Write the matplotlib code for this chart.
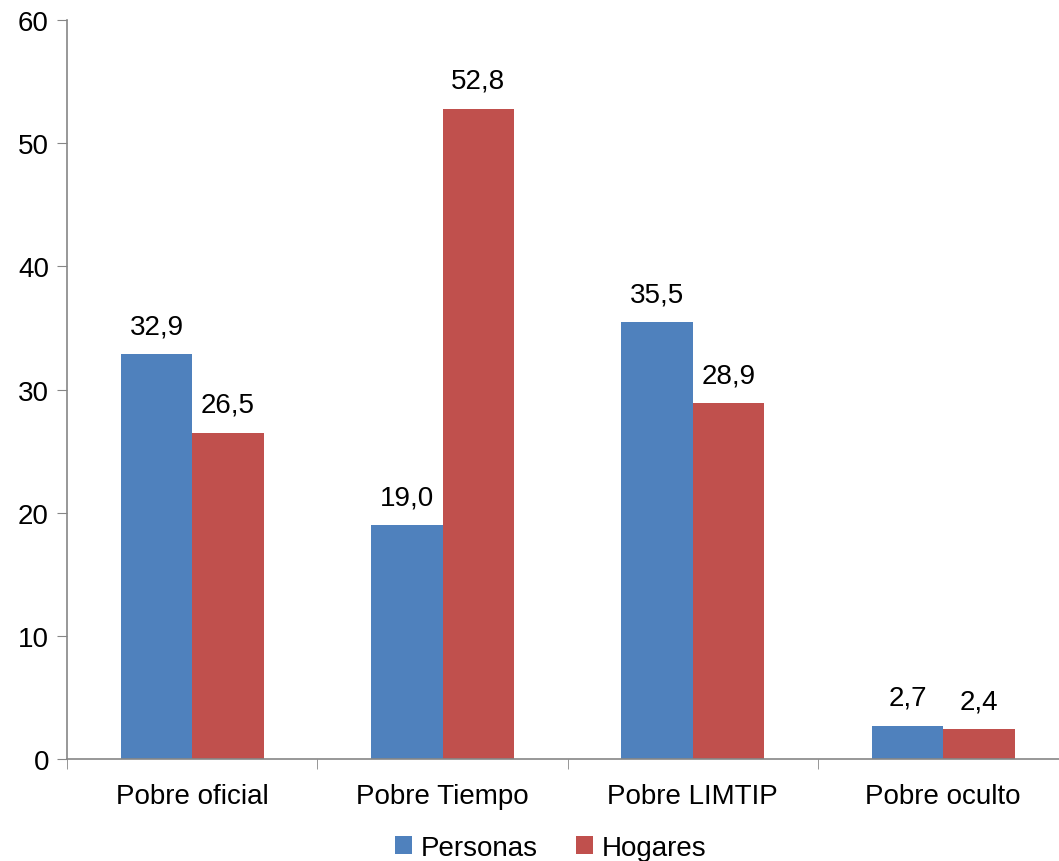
import numpy as np
import matplotlib.pyplot as plt
from matplotlib.ticker import FixedLocator

plt.rcParams['font.family'] = ['Liberation Sans', 'DejaVu Sans']

categorias = ['Pobre oficial', 'Pobre Tiempo', 'Pobre LIMTIP', 'Pobre oculto']
personas = [32.9, 19.0, 35.5, 2.7]
hogares = [26.5, 52.8, 28.9, 2.4]

azul = '#4F81BD'
rojo = '#C0504D'
gris = '#868686'
fs = 20

fig = plt.figure(figsize=(10.59, 8.62), dpi=100)
ax = fig.add_axes([0.0633, 0.1183, 0.9455, 0.8573])

x = np.arange(len(categorias))
w = 0.285
b1 = ax.bar(x - w / 2, personas, w, color=azul, label='Personas')
b2 = ax.bar(x + w / 2, hogares, w, color=rojo, label='Hogares')

for bars, vals in [(b1, personas), (b2, hogares)]:
    for r, v in zip(bars, vals):
        ax.text(r.get_x() + r.get_width() / 2, v + 1.2, f'{v:.1f}'.replace('.', ','),
                ha='center', va='bottom', fontsize=fs)

ax.set_xlim(-0.5, len(categorias) - 0.5)
ax.set_ylim(0, 60)
ax.set_yticks(range(0, 61, 10))
ax.set_xticks(x)
ax.set_xticklabels(categorias)
ax.xaxis.set_minor_locator(FixedLocator(np.arange(-0.5, len(categorias), 1)))
ax.tick_params(axis='x', which='major', length=0, pad=17, labelsize=fs)
ax.tick_params(axis='x', which='minor', length=7, color=gris, direction='out')
ax.tick_params(axis='y', length=7, color=gris, direction='out', labelsize=fs, pad=6)

for s in ['top', 'right']:
    ax.spines[s].set_visible(False)
for s in ['left', 'bottom']:
    ax.spines[s].set_color(gris)
    ax.spines[s].set_linewidth(1.2)

fig.legend(handles=[b1, b2], loc='center', bbox_to_anchor=(0.52, 0.015), ncol=2,
           frameon=False, fontsize=fs, handlelength=0.6, handleheight=0.6,
           handletextpad=0.3, columnspacing=1.4)

fig.savefig('out.png', dpi=100)
